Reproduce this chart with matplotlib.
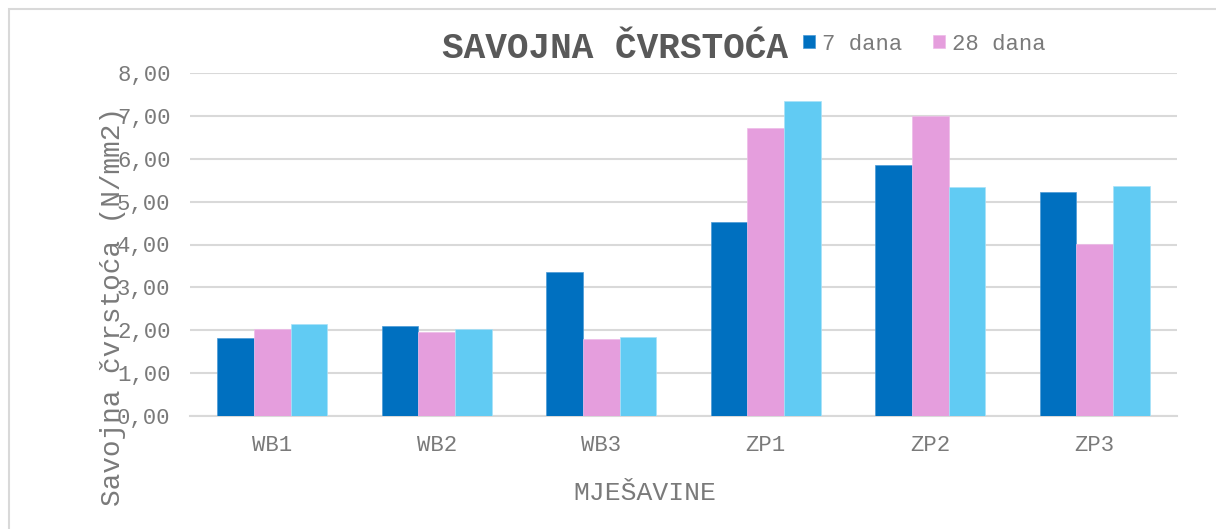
import matplotlib.pyplot as plt
from matplotlib.patches import Rectangle
import numpy as np

# data
mjesavine = ['WB1', 'WB2', 'WB3', 'ZP1', 'ZP2', 'ZP3']
dana_7 = [1.82, 2.09, 3.35, 4.52, 5.85, 5.22]
dana_28 = [2.03, 1.95, 1.79, 6.72, 6.99, 4.02]
serija_3 = [2.14, 2.04, 1.85, 7.34, 5.35, 5.36]
y_ticks = [0, 1, 2, 3, 4, 5, 6, 7, 8]

plt.rcParams['font.family'] = ['Liberation Mono', 'DejaVu Sans Mono']

W, H = 1216, 529
fig = plt.figure(figsize=(W / 100, H / 100), dpi=100)
ax = fig.add_axes([190 / W, 1 - 416 / H, 987 / W, 343 / H])

grey = '#595959'
light = '#7a7a7a'
grid_c = '#d9d9d9'
x = np.arange(len(mjesavine))
w = 0.222

b1 = ax.bar(x - w, dana_7, w, color='#0070c0', edgecolor='#4a9ad6', linewidth=0.5, zorder=3)
b2 = ax.bar(x, dana_28, w, color='#e59edd', edgecolor='#eebbe8', linewidth=0.5, zorder=3)
b3 = ax.bar(x + w, serija_3, w, color='#61cbf3', edgecolor='#a8e2f8', linewidth=0.5, zorder=3)

ax.set_xlim(-0.5, len(mjesavine) - 0.5)
ax.set_ylim(0, 8)
ax.set_yticks(y_ticks)
ax.yaxis.set_major_formatter(plt.FuncFormatter(lambda v, p: ('%.2f' % v).replace('.', ',')))
ax.set_xticks(x)
ax.set_xticklabels(mjesavine)
ax.tick_params(axis='y', length=0, pad=14, labelsize=16, labelcolor=light)
ax.tick_params(axis='x', length=0, pad=14, labelsize=16, labelcolor=light)
ax.grid(axis='y', color=grid_c, linewidth=1.5, zorder=0)
for s in ['top', 'right', 'left']:
    ax.spines[s].set_visible(False)
ax.spines['bottom'].set_color(grid_c)
ax.spines['bottom'].set_linewidth(1.5)

# title, axis titles
fig.text(615 / W, 1 - 49 / H, 'SAVOJNA ČVRSTOĆA', ha='center', va='center',
         fontsize=26, fontweight='bold', color=grey)
fig.text(645 / W, 1 - 493 / H, 'MJEŠAVINE', ha='center', va='center',
         fontsize=19, color=light)
fig.text(113 / W, 1 - 306 / H, 'Savojna čvrstoća (N/mm2)', ha='center', va='center',
         rotation=90, fontsize=20, color=light)

# legend (third entry falls outside the visible area)
fig.legend([b1, b2], ['7 dana', '28 dana'], loc='center left',
           bbox_to_anchor=(803 / W, 1 - 44 / H), ncol=2, frameon=False,
           fontsize=16, labelcolor=light, handlelength=0.55, handleheight=0.55,
           handletextpad=0.3, columnspacing=1.4, borderpad=0, borderaxespad=0)

# chart area border (cropped on right and bottom)
fig.patches.append(Rectangle((8.5 / W, -0.1), 1.2, 1.1 - 8.5 / H, transform=fig.transFigure,
                             fill=False, edgecolor=grid_c, linewidth=1.5))

fig.savefig('out.png', dpi=100)
